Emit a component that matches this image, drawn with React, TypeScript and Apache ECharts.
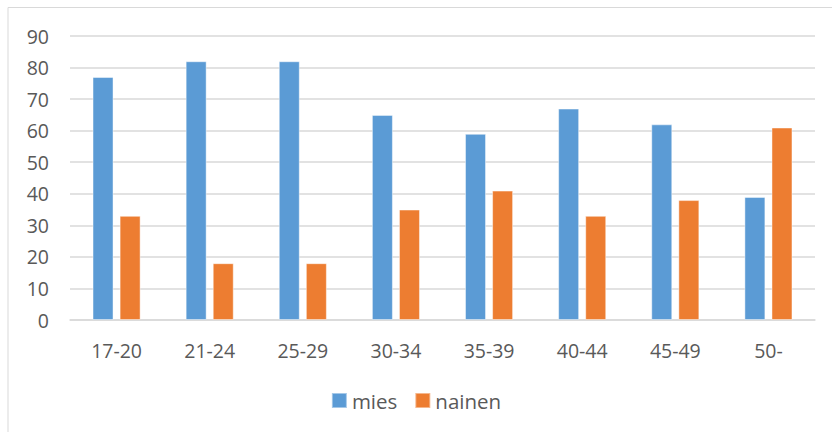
import React, { useEffect, useRef } from "react";
import * as echarts from "echarts";

const categories = ["17-20", "21-24", "25-29", "30-34", "35-39", "40-44", "45-49", "50-"];
const miesValues = [77, 82, 82, 65, 59, 67, 62, 39];
const nainenValues = [33, 18, 18, 35, 41, 33, 38, 61];
const seriesNames = ["mies", "nainen"];

const FONT = "'Open Sans', sans-serif";
const TEXT_COLOR = "#595959";

export default function App() {
  const ref = useRef<HTMLDivElement>(null);
  useEffect(() => {
    document.body.style.margin = "0";
    const chart = echarts.init(ref.current!, null, { renderer: "svg" });
    chart.setOption({
      animation: false,
      backgroundColor: "#ffffff",
      graphic: [
        {
          type: "rect",
          shape: { x: 8, y: 7.5, width: 900, height: 500 },
          style: { fill: "none", stroke: "#D9D9D9", lineWidth: 1 },
          silent: true,
        },
      ],
      grid: { left: 70, right: 17, top: 36, bottom: 112, containLabel: false },
      legend: {
        data: seriesNames,
        top: 385,
        left: "center",
        itemWidth: 15,
        itemHeight: 15,
        itemGap: 17,
        icon: "rect",
        textStyle: { fontFamily: FONT, fontSize: 20.5, color: TEXT_COLOR, padding: [0, 0, 0, 0] },
      },
      xAxis: {
        type: "category",
        data: categories,
        axisTick: { show: false },
        axisLine: { lineStyle: { color: "#D9D9D9", width: 1.5 } },
        axisLabel: { fontFamily: FONT, fontSize: 19.5, color: TEXT_COLOR, margin: 20 },
      },
      yAxis: {
        type: "value",
        min: 0,
        max: 90,
        interval: 10,
        axisLine: { show: false },
        axisTick: { show: false },
        splitLine: { lineStyle: { color: "#D9D9D9", width: 1.5 } },
        axisLabel: { fontFamily: FONT, fontSize: 19.5, color: TEXT_COLOR, margin: 21 },
      },
      series: [
        {
          name: seriesNames[0],
          type: "bar",
          data: miesValues,
          barWidth: 21,
          barGap: "29%",
          itemStyle: { color: "#5B9BD5", borderColor: "rgba(255,255,255,0.45)", borderWidth: 1 },
        },
        {
          name: seriesNames[1],
          type: "bar",
          data: nainenValues,
          barWidth: 21,
          barGap: "29%",
          itemStyle: { color: "#ED7D31", borderColor: "rgba(255,255,255,0.45)", borderWidth: 1 },
        },
      ],
    });
    return () => chart.dispose();
  }, []);
  return <div ref={ref} style={{ width: 832, height: 432 }} />;
}
